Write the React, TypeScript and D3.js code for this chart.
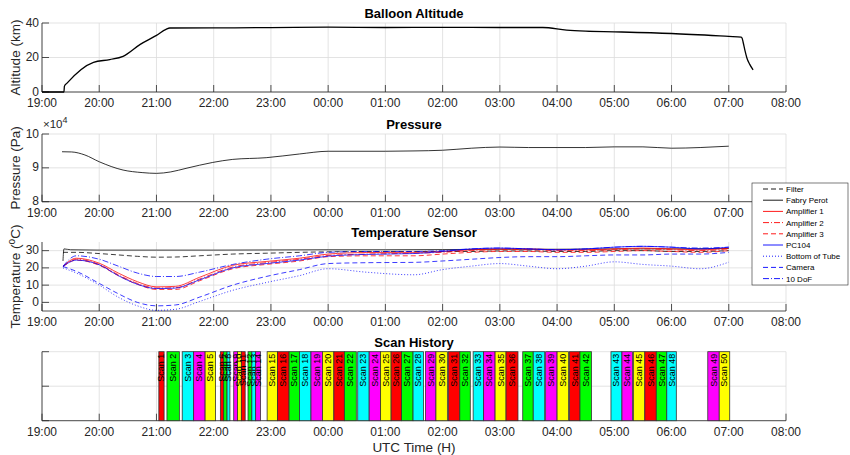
import React, { useEffect, useRef } from "react";
import * as d3 from "d3";

// x axis ticks (UTC, crosses midnight)
const xTickLabels = ["19:00", "20:00", "21:00", "22:00", "23:00", "00:00", "01:00", "02:00", "03:00", "04:00", "05:00", "06:00", "07:00", "08:00"];

// Balloon altitude (km)
const altitudeTimes = ["19:00", "19:23", "19:23.5", "19:26", "19:54", "20:11", "20:25", "20:43", "21:00", "21:10", "21:14", "22:00", "23:00", "00:00", "01:00", "02:00", "03:00", "03:45", "04:10", "04:30", "05:00", "06:00", "07:00", "07:13", "07:14", "07:15", "07:17", "07:19", "07:22", "07:25.5"];
const altitudeKm = [0, 0, 3.4, 5, 17.2, 18.8, 20.7, 27.6, 32.8, 36.3, 37.1, 37.2, 37.3, 37.6, 37.4, 37.5, 37.4, 37.4, 35.9, 35.3, 34.9, 33.9, 32.2, 31.8, 31.2, 29, 24, 19.7, 16, 12.8];

// Pressure (x10^4 Pa)
const pressureTimes = ["19:21", "19:31", "19:45", "20:00", "20:25", "20:45", "21:00", "21:15", "21:31", "21:59", "22:20", "22:55", "23:30", "00:00", "01:00", "01:30", "02:00", "02:30", "03:00", "03:30", "04:00", "04:30", "05:00", "05:30", "06:00", "06:30", "07:00"];
const pressureE4 = [9.476, 9.47, 9.38, 9.18, 8.935, 8.86, 8.837, 8.88, 8.985, 9.16, 9.25, 9.3, 9.41, 9.49, 9.49, 9.5, 9.52, 9.58, 9.615, 9.6, 9.6, 9.6, 9.62, 9.62, 9.58, 9.6, 9.64];

// Temperature sensors (degC)
const tempTimes = ["19:22", "19:36", "20:00", "20:20", "20:40", "21:00", "21:20", "21:45", "22:20", "22:55", "23:30", "00:00", "00:40", "01:30", "02:00", "02:30", "03:00", "03:30", "04:00", "04:30", "05:00", "05:30", "06:00", "06:30", "07:00"];
const filterT = [29, 29, 28.3, 27.5, 26.7, 26.2, 26.3, 27, 28, 28.5, 29, 29.3, 29.5, 29.5, 29.5, 29.5, 29.8, 29.8, 29.5, 29.5, 30, 30, 29.5, 29.5, 30];
const fabryTimes = ["19:22", "19:23", "19:30", "20:00", "21:00", "22:00", "23:00", "00:00", "01:00", "02:00", "03:00", "04:00", "05:00", "06:00", "07:00"];
const fabryT = [24, 31, 30.5, 30.3, 30.3, 30.3, 30.4, 30.5, 30.5, 30.6, 30.8, 30.8, 31, 31, 31.2];
const amp1T = [20.8, 25.6, 22.7, 17, 12, 9.0, 9.3, 14.5, 21.5, 23.7, 25.6, 28, 28.9, 29, 29.5, 30.5, 31, 31, 30.5, 30.5, 31, 31.5, 31, 30.5, 31.5];
const amp2T = [20.8, 25, 22, 16, 11, 8.3, 8.5, 13.5, 20.5, 23, 25, 27.2, 28, 28.5, 29, 30, 30.5, 30.5, 30, 30, 30.5, 31, 30.5, 30, 31];
const amp3T = [20.8, 24.5, 21.5, 15.5, 10.5, 7.5, 7.5, 12.5, 19.5, 22, 24, 26.5, 27, 27, 28, 29, 29.5, 29.5, 29, 29, 29.5, 30, 29.5, 29, 30];
const pc104T = [20.8, 24.5, 21.8, 15.5, 10.5, 8.0, 8.3, 13, 20, 22.5, 24.5, 26.8, 27.8, 28.3, 29.5, 31, 31.5, 31, 30.5, 31, 32, 32.5, 32, 31, 32];
const tubeT = [20, 17, 10, 3, -2, -4.6, -4, 0.5, 7, 11.5, 15.5, 19.5, 17.5, 16, 19, 21, 22.5, 21, 19.5, 21, 23.5, 22, 21, 19.5, 23.3];
const cameraT = [20.8, 18, 11, 5, 0, -2, -1.5, 3, 10, 15, 19, 22.5, 23, 23.2, 24, 25, 26, 26.5, 26.5, 27, 27.5, 27.5, 28, 28, 29];
const dofT = [21, 27, 25, 21, 17, 15, 15, 17.5, 22, 25, 27, 29, 29.5, 29.5, 30, 31, 31.5, 31, 30.5, 31, 32, 32.5, 32, 31.5, 32];

// Scan history
const scanStarts = ["21:02.5", "21:11", "21:27", "21:39", "21:51", "22:07", "22:10.5", "22:14", "22:21", "22:25", "22:29", "22:36", "22:40", "22:44", "22:56", "23:07", "23:19", "23:30", "23:42", "23:54", "00:06", "00:17", "00:31", "00:43", "00:55", "01:06", "01:17", "01:29", "01:42", "01:53", "02:06", "02:18", "02:32", "02:43", "02:55", "03:06.5", "03:24", "03:35", "03:48", "04:00", "04:13", "04:24", "04:56.5", "05:08", "05:20", "05:32", "05:44", "05:55", "06:38", "06:50"];
const scanEnds = ["21:08", "21:24", "21:39", "21:51", "22:02", "22:10.5", "22:14", "22:17", "22:25", "22:29", "22:33", "22:40", "22:44", "22:49", "23:07", "23:19", "23:30", "23:42", "23:54", "00:06", "00:17", "00:29.5", "00:43", "00:55", "01:06", "01:17", "01:29", "01:40", "01:53", "02:05", "02:18", "02:29", "02:43", "02:55", "03:06.5", "03:19", "03:35", "03:47", "04:00", "04:12", "04:24", "04:36", "05:08", "05:19", "05:32", "05:44", "05:55", "06:05", "06:50", "07:01"];
const scanColors = ["#ff0000", "#00ff00", "#00ffff", "#ff00ff", "#ffff00"];

const toHours = (s: string) => {
    const [h, m] = s.split(":").map(Number);
    return (h < 12 ? h + 24 : h) + m / 60;
};

const FONT = "Helvetica, Arial, 'Liberation Sans', sans-serif";
const AXIS = "#262626";
const GRID = "#dcdcdc";

export default function App() {
    const svgRef = useRef<SVGSVGElement>(null);

    useEffect(() => {
        const width = 850;
        const height = 455;
        const marginLeft = 42;
        const marginRight = 786;

        const svg = d3.select(svgRef.current)
            .attr("width", width)
            .attr("height", height)
            .style("font-family", FONT);
        svg.selectAll("*").remove();

        const x = d3.scaleLinear().domain([19, 32]).range([marginLeft, marginRight]);
        const xTicks = xTickLabels.map(toHours);

        // one MATLAB-looking axes panel
        const panel = (top: number, bottom: number, domain: [number, number], yTicks: number[], yLabels: string[], title: string, ylabel: string | null) => {
            const y = d3.scaleLinear().domain(domain).range([bottom, top]);
            const g = svg.append("g");
            // grid
            g.selectAll(".gx").data(xTicks).enter().append("line")
                .attr("x1", d => x(d)).attr("x2", d => x(d))
                .attr("y1", top).attr("y2", bottom)
                .attr("stroke", GRID).attr("stroke-width", 0.8);
            g.selectAll(".gy").data(yTicks).enter().append("line")
                .attr("x1", marginLeft).attr("x2", marginRight)
                .attr("y1", d => y(d)).attr("y2", d => y(d))
                .attr("stroke", GRID).attr("stroke-width", 0.8);
            // axes lines
            g.append("line").attr("x1", marginLeft).attr("x2", marginRight).attr("y1", bottom).attr("y2", bottom)
                .attr("stroke", AXIS).attr("stroke-width", 0.8);
            g.append("line").attr("x1", marginLeft).attr("x2", marginLeft).attr("y1", top).attr("y2", bottom)
                .attr("stroke", AXIS).attr("stroke-width", 0.8);
            // inward ticks
            g.selectAll(".tx").data(xTicks).enter().append("line")
                .attr("x1", d => x(d)).attr("x2", d => x(d))
                .attr("y1", bottom).attr("y2", bottom - 7)
                .attr("stroke", AXIS).attr("stroke-width", 0.8);
            g.selectAll(".ty").data(yTicks).enter().append("line")
                .attr("x1", marginLeft).attr("x2", marginLeft + 7)
                .attr("y1", d => y(d)).attr("y2", d => y(d))
                .attr("stroke", AXIS).attr("stroke-width", 0.8);
            // tick labels
            g.selectAll(".lx").data(xTicks).enter().append("text")
                .attr("x", d => x(d)).attr("y", bottom + 15)
                .attr("text-anchor", "middle").attr("font-size", 12).attr("fill", AXIS)
                .text((d, i) => xTickLabels[i]);
            g.selectAll(".ly").data(yTicks).enter().append("text")
                .attr("x", marginLeft - 3).attr("y", d => y(d) + 3.5)
                .attr("text-anchor", "end").attr("font-size", 12).attr("fill", AXIS)
                .text((d, i) => yLabels[i]);
            g.append("text").attr("x", (marginLeft + marginRight) / 2).attr("y", top - 5)
                .attr("text-anchor", "middle").attr("font-size", 13).attr("font-weight", "bold").attr("fill", "#000")
                .text(title);
            if (ylabel) {
                g.append("text")
                    .attr("transform", `translate(20,${(top + bottom) / 2}) rotate(-90)`)
                    .attr("text-anchor", "middle").attr("font-size", 13.5).attr("fill", AXIS)
                    .text(ylabel);
            }
            return { y, g };
        };

        // Altitude
        const alt = panel(23, 92, [0, 40], [0, 20, 40], ["0", "20", "40"], "Balloon Altitude", "Altitude (km)");
        svg.append("path")
            .datum(altitudeTimes.map((t, i) => [toHours(t), altitudeKm[i]] as [number, number]))
            .attr("fill", "none").attr("stroke", "#000").attr("stroke-width", 1.3)
            .attr("d", d3.line<[number, number]>().x(d => x(d[0])).y(d => alt.y(d[1])).curve(d3.curveMonotoneX));

        // Pressure
        const pr = panel(134, 201.7, [8, 10], [8, 9, 10], ["8", "9", "10"], "Pressure", "Pressure (Pa)");
        const ex = svg.append("text").attr("x", 43).attr("y", 128).attr("font-size", 11.5).attr("fill", AXIS);
        ex.append("tspan").text("\u00d710");
        ex.append("tspan").attr("dy", -5).attr("font-size", 9).text("4");
        svg.append("path")
            .datum(pressureTimes.map((t, i) => [toHours(t), pressureE4[i]] as [number, number]))
            .attr("fill", "none").attr("stroke", "#000").attr("stroke-width", 0.8)
            .attr("d", d3.line<[number, number]>().x(d => x(d[0])).y(d => pr.y(d[1])).curve(d3.curveMonotoneX));

        // Temperature
        const tp = panel(242, 311, [-5, 35], [0, 10, 20, 30], ["0", "10", "20", "30"], "Temperature Sensor", null);
        const tl = svg.append("text")
            .attr("transform", `translate(20,${(242 + 311) / 2}) rotate(-90)`)
            .attr("text-anchor", "middle").attr("font-size", 13.5).attr("fill", AXIS);
        tl.append("tspan").text("Temperature (");
        tl.append("tspan").attr("dy", -5).attr("font-size", 10).text("o");
        tl.append("tspan").attr("dy", 5).text("C)");

        const series = [
            { name: "Filter", times: tempTimes, vals: filterT, color: "#000", dash: "5,3" },
            { name: "Fabry Perot", times: fabryTimes, vals: fabryT, color: "#000", dash: null },
            { name: "Amplifier 1", times: tempTimes, vals: amp1T, color: "#ff0000", dash: null },
            { name: "Amplifier 2", times: tempTimes, vals: amp2T, color: "#ff0000", dash: "6,2,1,2" },
            { name: "Amplifier 3", times: tempTimes, vals: amp3T, color: "#ff0000", dash: "5,3" },
            { name: "PC104", times: tempTimes, vals: pc104T, color: "#0000ff", dash: null },
            { name: "Bottom of Tube", times: tempTimes, vals: tubeT, color: "#0000ff", dash: "1,2" },
            { name: "Camera", times: tempTimes, vals: cameraT, color: "#0000ff", dash: "5,3" },
            { name: "10 DoF", times: tempTimes, vals: dofT, color: "#0000ff", dash: "6,2,1,2" },
        ];
        const tLine = d3.line<[number, number]>().x(d => x(d[0])).y(d => tp.y(d[1])).curve(d3.curveMonotoneX);
        series.forEach(s => {
            svg.append("path")
                .datum(s.times.map((t, i) => [toHours(t), s.vals[i]] as [number, number]))
                .attr("fill", "none").attr("stroke", s.color).attr("stroke-width", 0.9)
                .attr("stroke-opacity", 0.85)
                .attr("stroke-dasharray", s.dash)
                .attr("d", tLine);
        });

        // Scan history
        const sc = panel(351.7, 420.7, [0, 2], [0, 1, 2], ["", "", ""], "Scan History", null);
        const bars = svg.append("g");
        scanStarts.forEach((s, i) => {
            const x0 = x(toHours(s));
            const x1 = x(toHours(scanEnds[i]));
            bars.append("rect")
                .attr("x", x0).attr("y", sc.y(2))
                .attr("width", x1 - x0).attr("height", sc.y(0) - sc.y(2))
                .attr("fill", scanColors[i % 5]).attr("stroke", "#333").attr("stroke-width", 0.8);
            bars.append("text")
                .attr("transform", `translate(${(x0 + x1) / 2 + 3},${sc.y(2) + 2}) rotate(-90)`)
                .attr("text-anchor", "end").attr("font-size", 9).attr("fill", "#000")
                .text(`Scan ${i + 1}`);
        });
        svg.append("text").attr("x", (marginLeft + marginRight) / 2).attr("y", 452)
            .attr("text-anchor", "middle").attr("font-size", 13.5).attr("fill", AXIS)
            .text("UTC Time (H)");

        // Legend
        const lg = svg.append("g").attr("transform", "translate(752,183)");
        lg.append("rect").attr("width", 96).attr("height", 102)
            .attr("fill", "#fff").attr("stroke", AXIS).attr("stroke-width", 0.6);
        series.forEach((s, i) => {
            const yy = 6 + i * 11.2;
            lg.append("line").attr("x1", 11).attr("x2", 31).attr("y1", yy).attr("y2", yy)
                .attr("stroke", s.color).attr("stroke-width", 0.9).attr("stroke-dasharray", s.dash);
            lg.append("text").attr("x", 34).attr("y", yy + 3).attr("font-size", 8).attr("fill", "#000").text(s.name);
        });
    }, []);

    return <svg ref={svgRef} style={{ position: "absolute", left: 0, top: 0 }}></svg>;
}
